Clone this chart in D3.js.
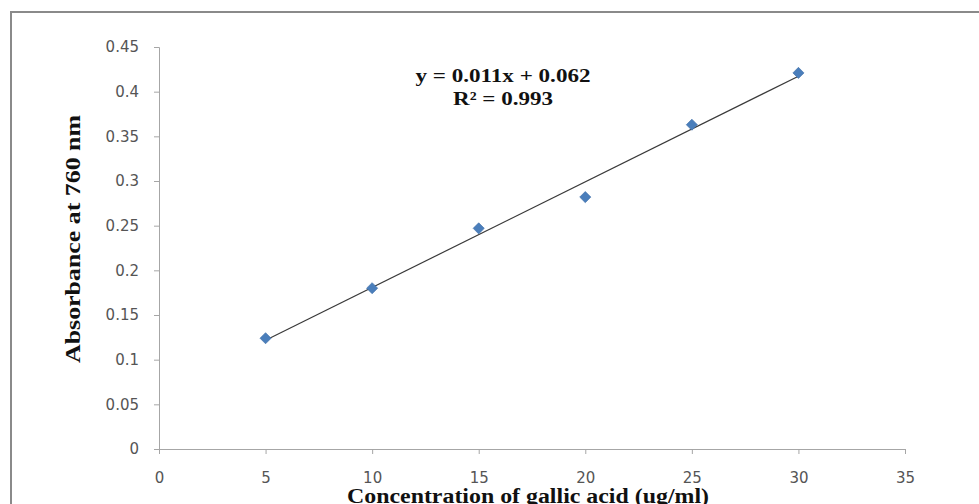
<!DOCTYPE html>
<html>
<head>
<meta charset="utf-8">
<script src="https://cdn.jsdelivr.net/npm/d3@7"></script>
<style>
  body { margin: 0; background: #fff; }
  svg { display: block; }
  .tick text { font-family: 'DejaVu Sans', sans-serif; font-size: 15px; fill: #555; }
  .ttl { font-family: 'Liberation Serif', serif; font-weight: bold; fill: #111; }
</style>
</head>
<body>
<svg id="chart" width="979" height="504"></svg>
<script>
// data
const conc = [5, 10, 15, 20, 25, 30]
const absorb = [0.124, 0.180, 0.247, 0.282, 0.363, 0.421]
const x_ticks = [0, 5, 10, 15, 20, 25, 30, 35]
const y_ticks = [0, 0.05, 0.1, 0.15, 0.2, 0.25, 0.3, 0.35, 0.4, 0.45]
const eq_lines = ['y = 0.011x + 0.062', 'R\u00b2 = 0.993']

const svg = d3.select('#chart')

// outer frame (runs off right / bottom)
svg.append('rect')
  .attr('x', 11).attr('y', 12)
  .attr('width', 1000).attr('height', 600)
  .attr('fill', 'none').attr('stroke', '#8a8a8a').attr('stroke-width', 2)

const x = d3.scaleLinear().domain([0, 35]).range([159, 905])
const y = d3.scaleLinear().domain([0, 0.45]).range([449, 47])

const x_axis = svg.append('g')
  .attr('transform', `translate(0,${y(0)})`)
  .call(d3.axisBottom(x).tickValues(x_ticks).tickSize(5).tickPadding(18).tickFormat(d3.format('d')))
const y_axis = svg.append('g')
  .attr('transform', `translate(${x(0)},0)`)
  .call(d3.axisLeft(y).tickValues(y_ticks).tickSize(5).tickPadding(15).tickFormat(d => d3.format('')(+d.toFixed(2))))

for (let a of [x_axis, y_axis]) {
  a.select('.domain').attr('stroke', '#a6a6a6')
  a.selectAll('.tick line').attr('stroke', '#a6a6a6')
}

// linear trendline computed from the points
const n = conc.length
const mx = d3.mean(conc), my = d3.mean(absorb)
let sxy = 0, sxx = 0
for (let i = 0; i < n; i++) {
  sxy += (conc[i] - mx) * (absorb[i] - my)
  sxx += (conc[i] - mx) ** 2
}
const slope = sxy / sxx
const icpt = my - slope * mx
const x0 = d3.min(conc), x1 = d3.max(conc)
svg.append('line')
  .attr('x1', x(x0)).attr('y1', y(icpt + slope * x0))
  .attr('x2', x(x1)).attr('y2', y(icpt + slope * x1))
  .attr('stroke', '#3a3a3a').attr('stroke-width', 1.2)

// diamond markers
svg.selectAll('.pt')
  .data(conc.map((c, i) => [c, absorb[i]]))
  .join('path')
  .attr('class', 'pt')
  .attr('d', d3.symbol(d3.symbolSquare, 62))
  .attr('transform', d => `translate(${x(d[0])},${y(d[1])}) rotate(45)`)
  .attr('fill', '#4a7ebb')
  .attr('stroke', '#3f6fa8').attr('stroke-width', 0.6)

// equation
const eq_w = [175, 100]
svg.selectAll('.eq')
  .data(eq_lines)
  .join('text')
  .attr('class', 'ttl eq')
  .attr('x', 503)
  .attr('y', (d, i) => 82 + i * 23)
  .attr('text-anchor', 'middle')
  .attr('font-size', 19)
  .attr('textLength', (d, i) => eq_w[i])
  .attr('lengthAdjust', 'spacingAndGlyphs')
  .text(d => d)

// axis titles
svg.append('text')
  .attr('class', 'ttl')
  .attr('x', 528).attr('y', 503)
  .attr('text-anchor', 'middle')
  .attr('font-size', 20)
  .attr('textLength', 362)
  .attr('lengthAdjust', 'spacingAndGlyphs')
  .text('Concentration of gallic acid (ug/ml)')

svg.append('text')
  .attr('class', 'ttl')
  .attr('transform', 'translate(80,239) rotate(-90)')
  .attr('text-anchor', 'middle')
  .attr('font-size', 20)
  .attr('textLength', 248)
  .attr('lengthAdjust', 'spacingAndGlyphs')
  .text('Absorbance at 760 nm')
</script>
</body>
</html>
